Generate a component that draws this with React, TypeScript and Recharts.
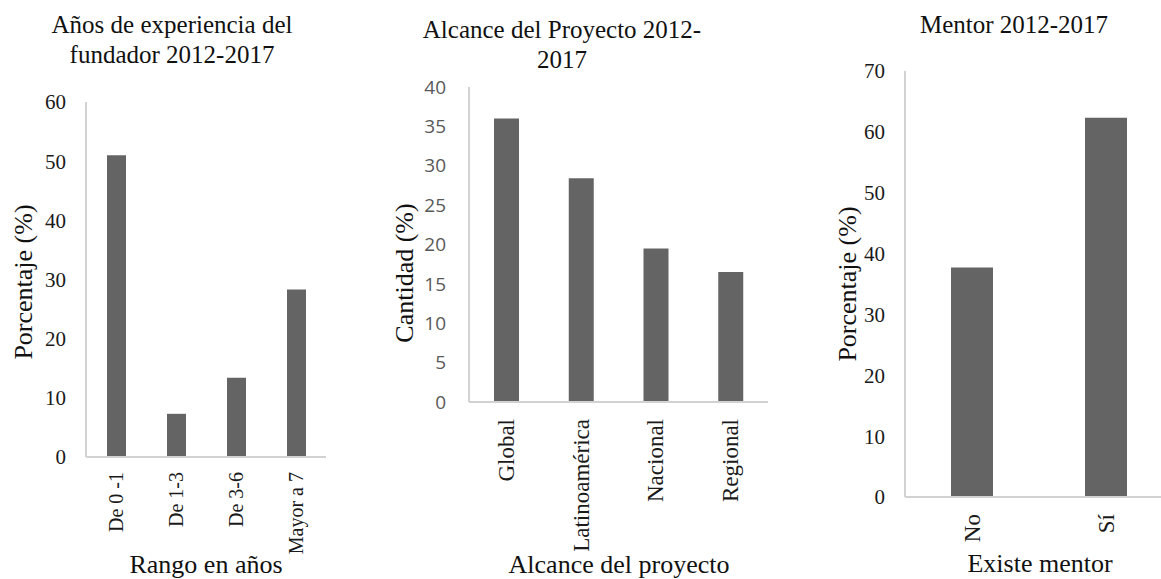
import React from "react";
import { BarChart, Bar, XAxis, YAxis } from "recharts";

// Años de experiencia del fundador
const rangos = ["De 0 -1", "De 1-3", "De 3-6", "Mayor a 7"];
const porcentajeRango = [51.0, 7.3, 13.4, 28.3];
const ticksRango = [0, 10, 20, 30, 40, 50, 60];

// Alcance del proyecto
const alcances = ["Global", "Latinoamérica", "Nacional", "Regional"];
const cantidadAlcance = [36.0, 28.4, 19.5, 16.5];
const ticksAlcance = [0, 5, 10, 15, 20, 25, 30, 35, 40];

// Mentor
const mentor = ["No", "Sí"];
const porcentajeMentor = [37.7, 62.3];
const ticksMentor = [0, 10, 20, 30, 40, 50, 60, 70];

const SERIF = "'Liberation Serif', 'Times New Roman', serif";
const BAR = "#646464";
const AXIS = "#d2d2d2";

const toRows = (cats: string[], vals: number[]) =>
  cats.map((name, i) => ({ name, value: vals[i] }));

const VTick = (props: any) => {
  const { x, y, payload, fontSize, offset } = props;
  return (
    <g transform={`translate(${x},${y}) rotate(-90)`}>
      <text
        x={-offset}
        y={0}
        textAnchor="end"
        dominantBaseline="central"
        fontFamily={SERIF}
        fontSize={fontSize}
        fill="#1a1a1a"
      >
        {payload.value}
      </text>
    </g>
  );
};

const Title = ({ lines, cx, top }: { lines: string[]; cx: number; top: number }) => (
  <div
    style={{
      position: "absolute",
      left: cx,
      top,
      transform: "translateX(-50%)",
      fontFamily: SERIF,
      fontSize: 25,
      lineHeight: "30px",
      textAlign: "center",
      whiteSpace: "nowrap",
      color: "#111",
    }}
  >
    {lines.map((l) => (
      <div key={l}>{l}</div>
    ))}
  </div>
);

const AxisTitle = ({ text, cx, cy, rotate }: { text: string; cx: number; cy: number; rotate?: boolean }) => (
  <div
    style={{
      position: "absolute",
      left: cx,
      top: cy,
      transform: `translate(-50%, -50%)${rotate ? " rotate(-90deg)" : ""}`,
      fontFamily: SERIF,
      fontSize: 26,
      lineHeight: "26px",
      whiteSpace: "nowrap",
      color: "#111",
    }}
  >
    {text}
  </div>
);

export default function App() {
  return (
    <div
      style={{
        position: "absolute",
        left: 0,
        top: 0,
        width: 1161,
        height: 579,
        overflow: "hidden",
        background: "#fff",
      }}
    >
      {/* gráfico 1 */}
      <div style={{ position: "absolute", left: 0, top: 0 }}>
        <BarChart
          width={380}
          height={579}
          data={toRows(rangos, porcentajeRango)}
          margin={{ top: 102, right: 54, bottom: 22, left: 0 }}
        >
          <XAxis
            dataKey="name"
            height={100}
            axisLine={{ stroke: AXIS, strokeWidth: 2 }}
            tickLine={false}
            tickSize={0}
            interval={0}
            tick={<VTick fontSize={20} offset={13} />}
          />
          <YAxis
            width={86}
            domain={[0, 60]}
            ticks={ticksRango}
            axisLine={{ stroke: AXIS, strokeWidth: 2 }}
            tickLine={false}
            tickSize={0}
            tickMargin={20}
            tick={{ fontFamily: SERIF, fontSize: 21, fill: "#1a1a1a" }}
          />
          <Bar dataKey="value" fill={BAR} barSize={19} isAnimationActive={false} />
        </BarChart>
      </div>

      {/* gráfico 2 */}
      <div style={{ position: "absolute", left: 380, top: 0 }}>
        <BarChart
          width={400}
          height={579}
          data={toRows(alcances, cantidadAlcance)}
          margin={{ top: 87, right: 12, bottom: 27, left: 0 }}
        >
          <XAxis
            dataKey="name"
            height={150}
            axisLine={{ stroke: AXIS, strokeWidth: 2 }}
            tickLine={false}
            tickSize={0}
            interval={0}
            tick={<VTick fontSize={23} offset={15} />}
          />
          <YAxis
            width={89}
            domain={[0, 40]}
            ticks={ticksAlcance}
            axisLine={{ stroke: AXIS, strokeWidth: 2 }}
            tickLine={false}
            tickSize={0}
            tickMargin={23}
            tick={{ fontFamily: "'Open Sans', sans-serif", fontSize: 19, fill: "#595959" }}
          />
          <Bar dataKey="value" fill={BAR} barSize={25} isAnimationActive={false} />
        </BarChart>
      </div>

      {/* gráfico 3 */}
      <div style={{ position: "absolute", left: 780, top: 0 }}>
        <BarChart
          width={400}
          height={579}
          data={toRows(mentor, porcentajeMentor)}
          margin={{ top: 71, right: 7, bottom: 22, left: 0 }}
        >
          <XAxis
            dataKey="name"
            height={60}
            axisLine={{ stroke: AXIS, strokeWidth: 2 }}
            tickLine={false}
            tickSize={0}
            interval={0}
            tick={<VTick fontSize={23} offset={15} />}
          />
          <YAxis
            width={125}
            domain={[0, 70]}
            ticks={ticksMentor}
            axisLine={{ stroke: AXIS, strokeWidth: 2 }}
            tickLine={false}
            tickSize={0}
            tickMargin={20}
            tick={{ fontFamily: SERIF, fontSize: 21, fill: "#1a1a1a" }}
          />
          <Bar dataKey="value" fill={BAR} barSize={42} isAnimationActive={false} />
        </BarChart>
      </div>

      <Title lines={["Años de experiencia del", "fundador 2012-2017"]} cx={172} top={10} />
      <Title lines={["Alcance del Proyecto 2012-", "2017"]} cx={562} top={15} />
      <Title lines={["Mentor 2012-2017"]} cx={1014} top={10} />

      <AxisTitle text="Porcentaje (%)" cx={24} cy={282} rotate />
      <AxisTitle text="Cantidad (%)" cx={405} cy={273} rotate />
      <AxisTitle text="Porcentaje (%)" cx={848} cy={284} rotate />

      <AxisTitle text="Rango en años" cx={206} cy={565} />
      <AxisTitle text="Alcance del proyecto" cx={619} cy={565} />
      <AxisTitle text="Existe mentor" cx={1040} cy={564} />
    </div>
  );
}
